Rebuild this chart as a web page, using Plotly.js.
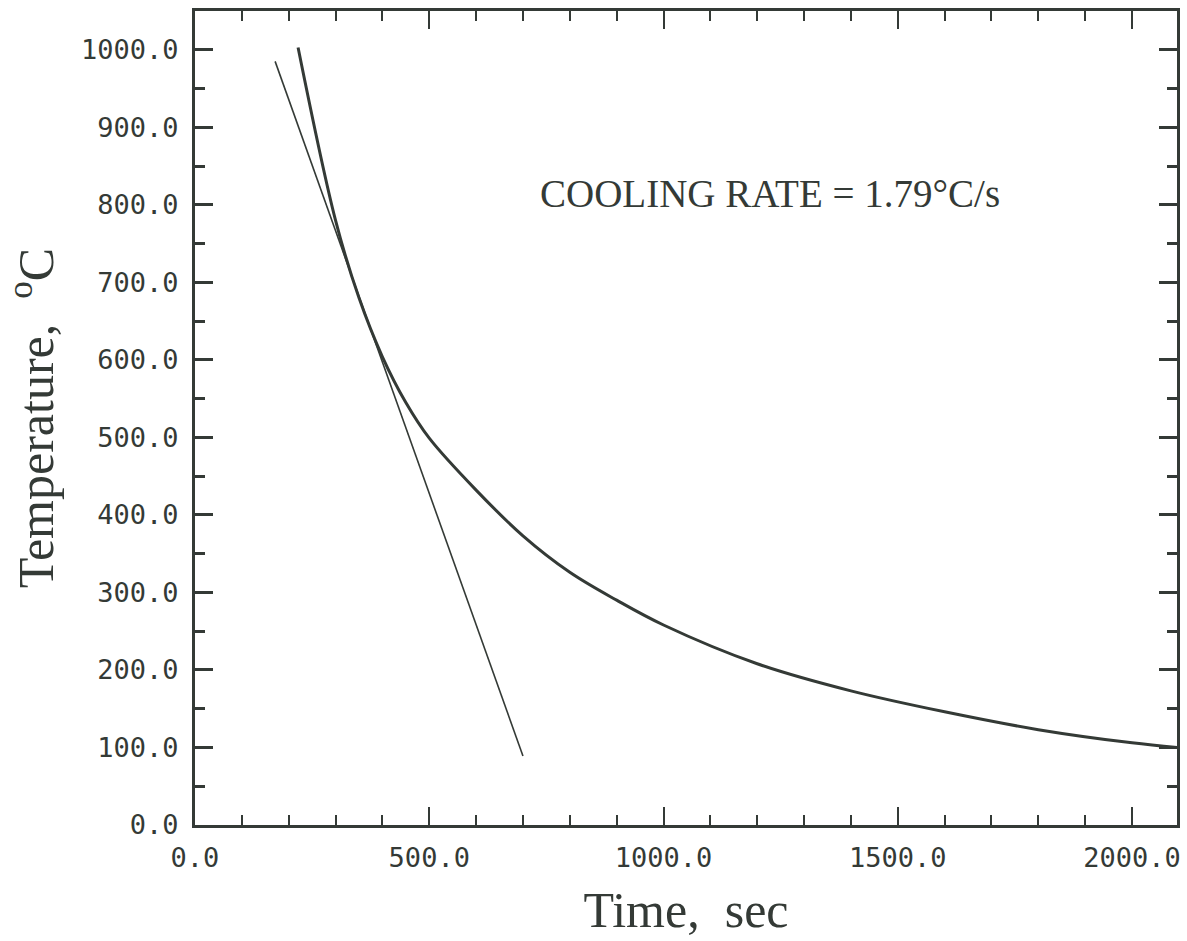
<!DOCTYPE html>
<html>
<head>
<meta charset="utf-8">
<script src="https://cdn.plot.ly/plotly-3.0.1.min.js"></script>
<style>html,body{margin:0;padding:0;background:#fff;}</style>
</head>
<body>
<div id="chart" style="width:1187px;height:941px;"></div>
<script>
// Cooling curve (time in s, temperature in °C)
const curveTime = [220, 300, 350, 400, 450, 500, 600, 700, 800, 900, 1000, 1200, 1400, 1600, 1800, 2000, 2096];
const curveTemp = [1003, 780, 680, 604, 545, 499, 432, 373, 326, 290, 258, 208, 173, 146, 123, 106, 100];
// Tangent line
const tangentTime = [171, 700];
const tangentTemp = [985, 89];

const ink = '#343a36';
const monoFont = {family: 'DejaVu Sans Mono, Liberation Mono, monospace', size: 27, color: ink};
const serif = 'Liberation Serif, Times New Roman, serif';

const data = [
  {x: curveTime, y: curveTemp, mode: 'lines', line: {color: ink, width: 3, shape: 'spline', smoothing: 1.0}, hoverinfo: 'skip'},
  {x: tangentTime, y: tangentTemp, mode: 'lines', line: {color: ink, width: 1.6}, hoverinfo: 'skip'}
];

const layout = {
  width: 1187, height: 941,
  margin: {l: 195, r: 10, t: 11, b: 116},
  paper_bgcolor: '#ffffff', plot_bgcolor: '#ffffff',
  showlegend: false,
  xaxis: {
    range: [0, 2096], tick0: 0, dtick: 500, tickformat: '.1f',
    ticks: 'inside', ticklen: 18, tickwidth: 2, tickcolor: ink,
    minor: {dtick: 100, ticks: 'inside', ticklen: 10, tickwidth: 2, tickcolor: ink},
    showline: true, linewidth: 3, linecolor: ink, mirror: 'allticks',
    showgrid: false, zeroline: false,
    tickfont: monoFont, ticklabelstandoff: 7,
    title: {text: 'Time,\u00a0\u00a0sec', font: {family: serif, size: 50, color: ink}, standoff: 20}
  },
  yaxis: {
    range: [0, 1050], tick0: 0, dtick: 100, tickformat: '.1f',
    ticks: 'inside', ticklen: 18, tickwidth: 3, tickcolor: ink,
    minor: {dtick: 50, ticks: 'inside', ticklen: 10, tickwidth: 3, tickcolor: ink},
    showline: true, linewidth: 3, linecolor: ink, mirror: 'allticks',
    showgrid: false, zeroline: false,
    tickfont: monoFont, ticklabelstandoff: 8,
    title: {text: 'Temperature,\u00a0 <sup>o</sup>C', font: {family: serif, size: 50, color: ink}, standoff: 12}
  },
  annotations: [
    {x: 770, y: 193, xref: 'paper', yref: 'paper', text: 'COOLING RATE = 1.79°C/s',
     showarrow: false, font: {family: serif, size: 39, color: ink}, xanchor: 'center', yanchor: 'middle'}
  ]
};
const plotW = 1187 - 195 - 10, plotH = 941 - 11 - 116;
layout.annotations[0].x = (770 - 195) / plotW;
layout.annotations[0].y = (941 - 116 - 193) / plotH;

Plotly.newPlot('chart', data, layout, {displayModeBar: false, staticPlot: true});
</script>
</body>
</html>
